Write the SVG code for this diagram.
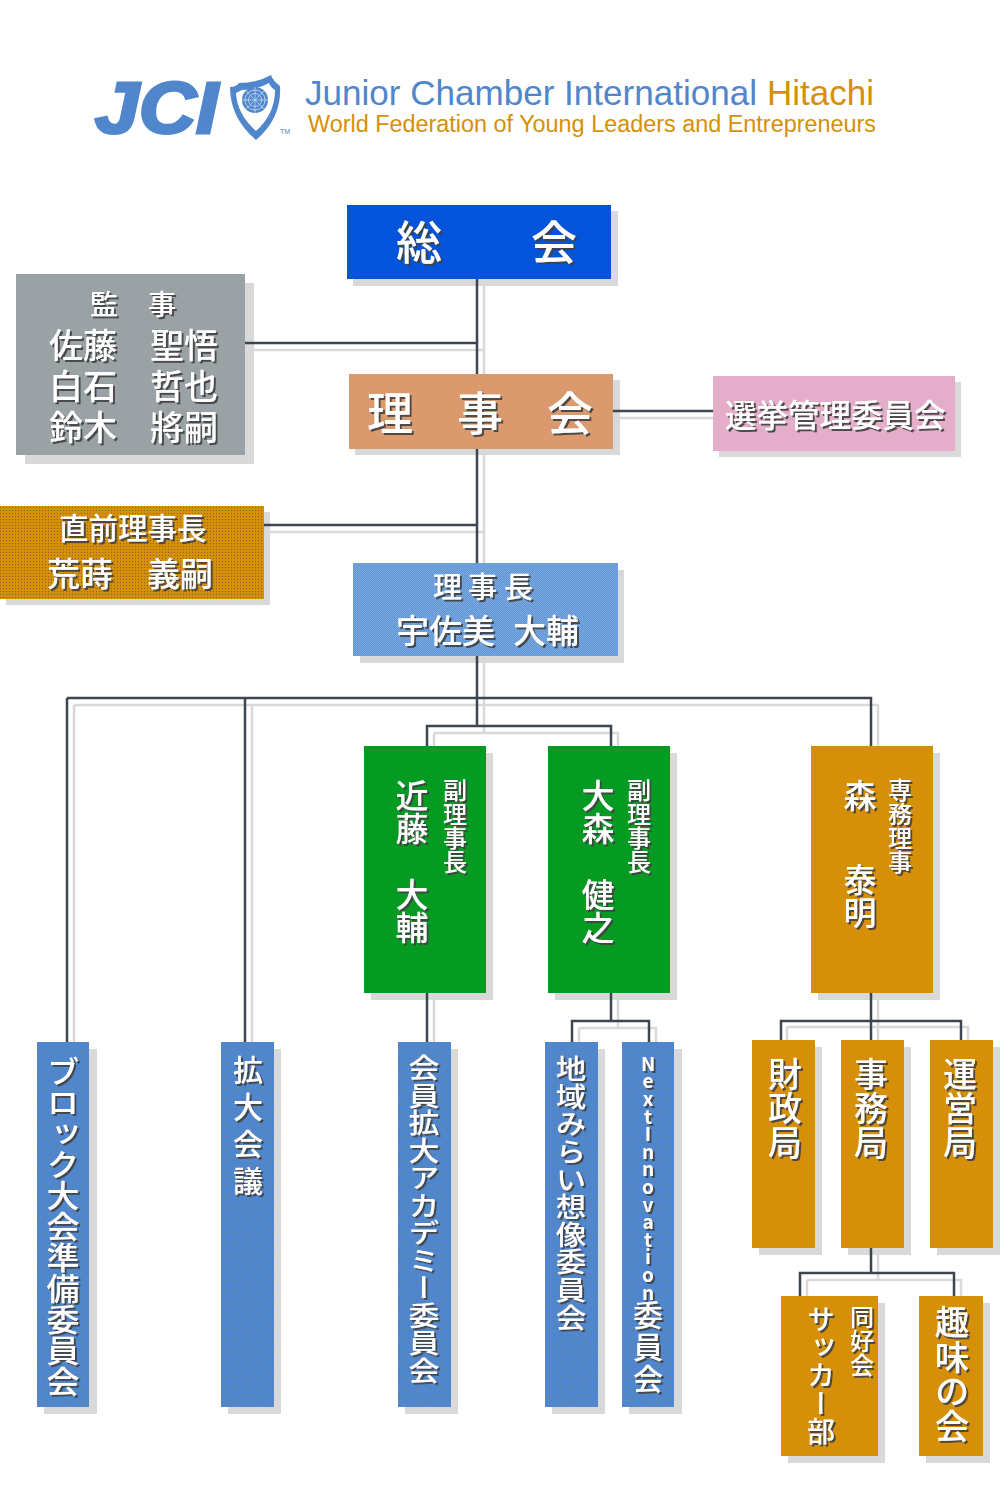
<svg xmlns="http://www.w3.org/2000/svg" width="1000" height="1498" viewBox="0 0 1000 1498">
<style>
text{font-family:"Noto Sans CJK JP","Noto Sans",sans-serif;font-weight:500;fill:#fff;filter:url(#ts)}
.v{writing-mode:vertical-rl;text-orientation:upright}
.logo{font-family:"Liberation Sans",Arial,sans-serif;font-weight:400;filter:none}
.sh{fill:#d9d9d9}
.ln{fill:none;stroke:#3c4650;stroke-width:2.5}
.lns{fill:none;stroke:#d9d9d9;stroke-width:2.5}
.bl{fill:url(#dots)}.or{fill:#d68f08}.gr{fill:#059b23}
</style>
<defs>
<filter id="ts" x="-10%" y="-10%" width="125%" height="125%"><feDropShadow dx="2" dy="2" stdDeviation="0.3" flood-color="#3f3f3f" flood-opacity="0.9"/></filter>
<pattern id="dBlue" width="2" height="2" patternUnits="userSpaceOnUse"><rect width="2" height="2" fill="#5f96d8"/><rect width="1" height="1" fill="#7da8dc"/><rect x="1" y="1" width="1" height="1" fill="#7da8dc"/></pattern>
<pattern id="dOr" width="3" height="3" patternUnits="userSpaceOnUse"><rect width="3" height="3" fill="#d68f08"/><rect width="1" height="1" fill="#8a6420"/></pattern>
<pattern id="dots" width="12" height="12" patternUnits="userSpaceOnUse"><rect width="12" height="12" fill="#5086cc"/><rect x="2" y="2" width="1" height="1" fill="#8f7850"/><rect x="8" y="8" width="1" height="1" fill="#8f7850"/></pattern>
</defs>

<g id="logo">
<text class="logo" x="95" y="133" font-size="72" textLength="123" lengthAdjust="spacingAndGlyphs" style="font-weight:700;font-style:italic;fill:#5086cc;stroke:#5086cc;stroke-width:3">JCI</text>
<path d="M239 83Q257 83 271 75Q273 81 280 86Q282 118 256 140Q230 118 230 87Q236 87 239 83Z" fill="#5086cc"/>
<path d="M242 90Q257 90 269 83Q271 88 275 90Q275 114 256 131Q237 114 236 93Z" fill="#fff"/>
<circle cx="255" cy="100" r="13" fill="#5086cc"/>
<circle cx="255" cy="100" r="10" fill="none" stroke="#cfe0f2" stroke-width=".8"/>
<circle cx="255" cy="100" r="6.5" fill="none" stroke="#cfe0f2" stroke-width=".8"/>
<path d="M255 87V113M242 100H268M246 91L264 109M264 91L246 109" stroke="#cfe0f2" stroke-width=".7"/>
<text class="logo" x="280" y="134" font-size="7" style="fill:#5086cc">TM</text>
<text class="logo" x="305" y="105" font-size="35" textLength="452" lengthAdjust="spacingAndGlyphs" style="fill:#5086cc">Junior Chamber International</text>
<text class="logo" x="767" y="105" font-size="35" textLength="107" lengthAdjust="spacingAndGlyphs" style="fill:#d68f08">Hitachi</text>
<text class="logo" x="308" y="132" font-size="23.5" textLength="568" lengthAdjust="spacingAndGlyphs" style="fill:#d68f08">World Federation of Young Leaders and Entrepreneurs</text>
</g>

<g id="connector-shadows">
<path class="lns" d="M484 279V733M245 350H484M614 418H720M264 532H484M74 705H878V746M74 705V1042M252 705V1042M434 733H618V746M434 733V746M434 993V1042M618 993V1028M579 1028H656V1042M579 1028V1042M878 993V1040M787 1027H968V1040M787 1027V1040M878 1248V1280M807 1280H961V1296M807 1280V1296"/>
</g>

<g id="soukai"><rect class="sh" x="353" y="211" width="265" height="75"/><rect x="347" y="205" width="264" height="74" fill="#0353db"/><text x="396 531" y="259" font-size="46">総会</text></g>
<g id="kanji"><rect class="sh" x="25" y="283" width="229" height="181"/><rect x="16" y="274" width="229" height="181" fill="#9aa2a6"/>
<text font-size="34"><tspan x="90 148" y="315" font-size="28">監事</tspan><tspan x="49 83 150 184" y="358">佐藤聖悟</tspan><tspan x="49 83 150 184" y="399">白石哲也</tspan><tspan x="49 83 150 184" y="440">鈴木將嗣</tspan></text></g>
<g id="rijikai"><rect class="sh" x="355" y="380" width="265" height="75"/><rect x="349" y="374" width="264" height="75" fill="#da9a6e"/><text x="367 457 547" y="430" font-size="46">理事会</text></g>
<g id="senkyo"><rect class="sh" x="719" y="382" width="242" height="75"/><rect x="713" y="376" width="242" height="75" fill="#e4aecb"/><text x="725" y="427" font-size="31.5">選挙管理委員会</text></g>
<g id="chokuzen"><rect class="sh" x="6" y="512" width="264" height="93"/><rect x="0" y="506" width="264" height="93" fill="url(#dOr)"/><text x="59" y="539" font-size="29.5">直前理事長</text><text x="47 80 147 180" y="586" font-size="33">荒蒔義嗣</text></g>
<g id="rijicho"><rect class="sh" x="360" y="570" width="264" height="93"/><rect x="353" y="563" width="265" height="93" fill="url(#dBlue)"/><text x="433 468 504" y="598" font-size="29">理事長</text><text x="396 429 462 513 546" y="643" font-size="33">宇佐美大輔</text></g>

<g id="kondo"><rect class="sh" x="371" y="753" width="122" height="247"/><rect class="gr" x="364" y="746" width="122" height="247"/><text class="v" x="412" y="779" font-size="33">近藤　大輔</text><text class="v" x="455" y="778" font-size="24">副理事長</text></g>
<g id="omori"><rect class="sh" x="555" y="753" width="122" height="247"/><rect class="gr" x="548" y="746" width="122" height="247"/><text class="v" x="598" y="779" font-size="33">大森　健之</text><text class="v" x="639" y="778" font-size="24">副理事長</text></g>
<g id="mori"><rect class="sh" x="818" y="753" width="122" height="247"/><rect class="or" x="811" y="746" width="122" height="247"/><text class="v" x="860" y="779" font-size="33">森</text><text class="v" x="860" y="863" font-size="33">泰明</text><text class="v" x="900" y="778" font-size="24">専務理事</text></g>

<g id="block"><rect class="sh" x="44" y="1049" width="53" height="365"/><rect class="bl" x="37" y="1042" width="52" height="365"/><text class="v" transform="translate(63 1056) scale(1 .94)" font-size="33">ブロック大会準備委員会</text></g>
<g id="kakudai"><rect class="sh" x="228" y="1049" width="53" height="365"/><rect class="bl" x="221" y="1042" width="53" height="365"/><text class="v" x="248" y="1055" font-size="30" letter-spacing="7">拡大会議</text></g>
<g id="academy"><rect class="sh" x="405" y="1049" width="53" height="365"/><rect class="bl" x="398" y="1042" width="53" height="365"/><text class="v" transform="translate(424 1054) scale(1 .887)" font-size="31">会員拡大アカデミー委員会</text></g>
<g id="chiiki"><rect class="sh" x="552" y="1049" width="53" height="365"/><rect class="bl" x="545" y="1042" width="53" height="365"/><text class="v" transform="translate(571 1055) scale(1 .905)" font-size="30.5">地域みらい想像委員会</text></g>
<g id="next"><rect class="sh" x="629" y="1049" width="53" height="365"/><rect class="bl" x="622" y="1042" width="52" height="365"/><text class="v" x="648" y="1054" font-size="19" style="font-weight:700" letter-spacing="-1.4">NextInnovation<tspan font-size="30" letter-spacing="2" style="font-weight:500">委員会</tspan></text></g>

<g id="zaisei"><rect class="sh" x="759" y="1047" width="63" height="208"/><rect class="or" x="752" y="1040" width="63" height="208"/><text class="v" x="785" y="1057" font-size="34">財政局</text></g>
<g id="jimu"><rect class="sh" x="848" y="1047" width="63" height="208"/><rect class="or" x="841" y="1040" width="63" height="208"/><text class="v" x="871" y="1057" font-size="34">事務局</text></g>
<g id="unei"><rect class="sh" x="937" y="1047" width="63" height="208"/><rect class="or" x="930" y="1040" width="63" height="208"/><text class="v" x="960" y="1057" font-size="34">運営局</text></g>
<g id="soccer"><rect class="sh" x="788" y="1303" width="97" height="160"/><rect class="or" x="781" y="1296" width="97" height="160"/><text class="v" x="821" y="1305" font-size="28">サッカー部</text><text class="v" x="862" y="1305" font-size="24">同好会</text></g>
<g id="shumi"><rect class="sh" x="926" y="1303" width="64" height="160"/><rect class="or" x="919" y="1296" width="64" height="160"/><text class="v" x="952" y="1305" font-size="34.5">趣味の会</text></g>

<g id="connectors">
<path class="ln" d="M477 279V374M477 449V563M477 656V726M245 343H477M613 411H713M264 525H477M67 698H871V746M67 698V1042M245 698V1042M427 746V726H611V746M427 993V1042M611 993V1021M572 1042V1021H649V1042M871 993V1040M781 1040V1021H961V1040M871 1248V1273M800 1296V1273H954V1296"/>
</g>
</svg>
